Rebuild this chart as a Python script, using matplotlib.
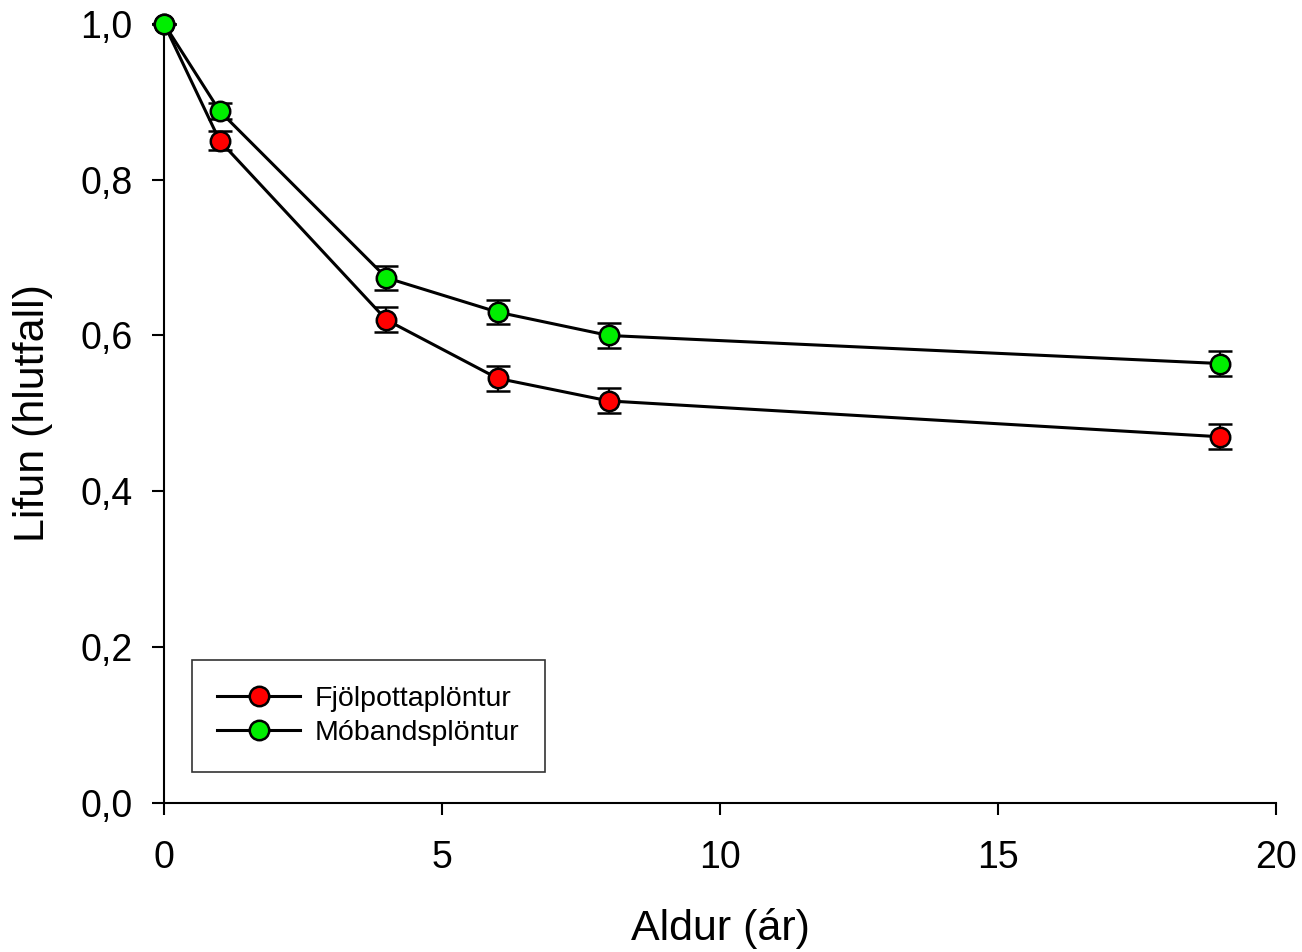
import matplotlib
matplotlib.use("Agg")
import matplotlib.pyplot as plt
from matplotlib.ticker import FuncFormatter

plt.rcParams['font.family'] = ['Liberation Sans', 'DejaVu Sans']

ar = [0, 1, 4, 6, 8, 19]
fjol = [1.0, 0.850, 0.620, 0.545, 0.516, 0.470]
fjol_err = [0, 0.012, 0.016, 0.016, 0.016, 0.016]
mob = [1.0, 0.888, 0.674, 0.630, 0.600, 0.564]
mob_err = [0, 0.010, 0.015, 0.015, 0.016, 0.016]

fig = plt.figure(figsize=(13.02, 9.52), dpi=100)
ax = fig.add_axes([0.126, 0.1565, 0.854, 0.8185])

for y, e, c, lab in [(fjol, fjol_err, '#ff0000', 'Fjölpottaplöntur'),
                     (mob, mob_err, '#00ee00', 'Móbandsplöntur')]:
    ax.errorbar(ar, y, yerr=e, fmt='none', ecolor='black', elinewidth=1.5,
                capsize=8.5, capthick=1.8, clip_on=False, zorder=2)
    ax.plot(ar, y, '-o', color='black', lw=2.2, marker='o', ms=14,
            mfc=c, mec='black', mew=1.8, label=lab, clip_on=False, zorder=3)

ax.set_xlim(0, 20)
ax.set_ylim(0, 1.0)
ax.set_xticks([0, 5, 10, 15, 20])
ax.set_yticks([0, 0.2, 0.4, 0.6, 0.8, 1.0])
ax.yaxis.set_major_formatter(FuncFormatter(lambda v, p: f"{v:.1f}".replace('.', ',')))
ax.spines['top'].set_visible(False)
ax.spines['right'].set_visible(False)
for s in ['left', 'bottom']:
    ax.spines[s].set_linewidth(1.5)
ax.tick_params(direction='out', length=8.5, width=1.5, labelsize=27)
ax.tick_params(axis='x', pad=18)
ax.tick_params(axis='y', pad=14)

ax.set_xlabel('Aldur (ár)', fontsize=31, labelpad=23)
ax.set_ylabel('Lifun (hlutfall)', fontsize=31, labelpad=20)

leg = ax.legend(loc='lower left', bbox_to_anchor=(0.025, 0.04), fontsize=20.5,
                frameon=True, fancybox=False, edgecolor='black',
                borderpad=0.9, handlelength=2.9, handletextpad=0.5,
                labelspacing=0.3, borderaxespad=0.0)
leg.get_frame().set_linewidth(1.2)

fig.savefig('out.png', dpi=100)
